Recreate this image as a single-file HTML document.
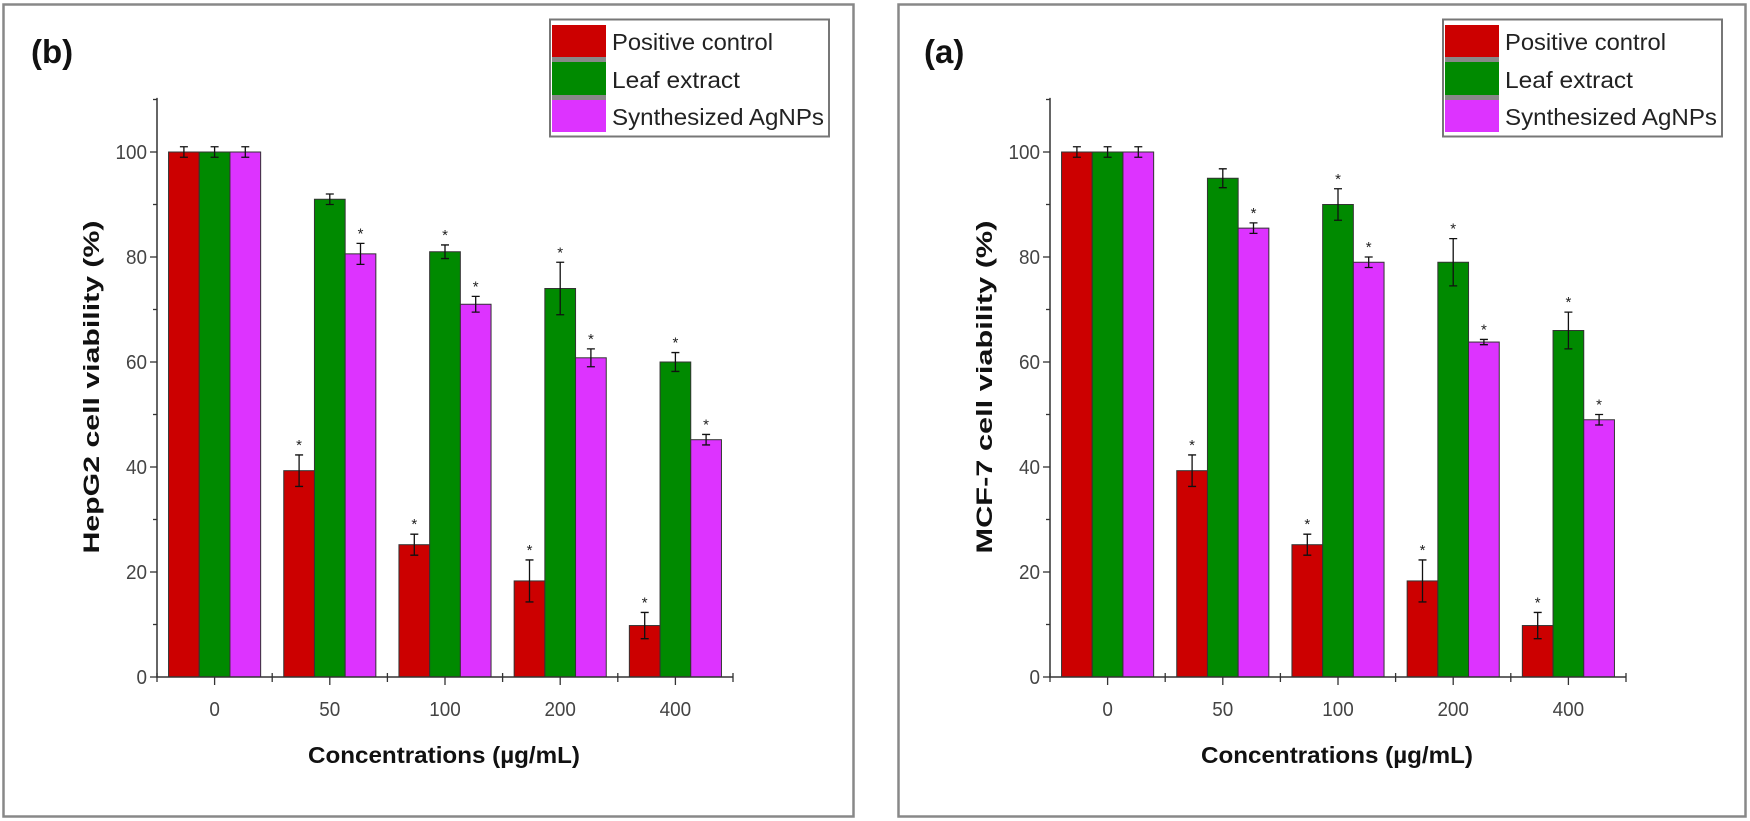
<!DOCTYPE html>
<html><head><meta charset="utf-8"><style>
body{margin:0;background:#fff;}
svg{display:block;font-family:"Liberation Sans",Arial,sans-serif;}
</style></head><body>
<svg id="chart" width="1750" height="821" viewBox="0 0 1750 821">
<rect x="3.5" y="4.5" width="850" height="812" fill="none" stroke="#888" stroke-width="2.5"/>
<rect x="898.5" y="4.5" width="847" height="812" fill="none" stroke="#888" stroke-width="2.5"/>
</svg>
<script>
const categories = ["0","50","100","200","400"];
const seriesNames = ["Positive control","Leaf extract","Synthesized AgNPs"];
const yTicks = [0,20,40,60,80,100];
// Panel (b) HepG2
const hepPositive = [100,39.3,25.2,18.3,9.8];
const hepPositiveErr = [1,3,2,4,2.5];
const hepLeaf = [100,91,81,74,60];
const hepLeafErr = [1,1,1.3,5,1.8];
const hepAgNP = [100,80.6,71,60.8,45.2];
const hepAgNPErr = [1,2,1.5,1.7,1];
// Panel (a) MCF-7
const mcfPositive = [100,39.3,25.2,18.3,9.8];
const mcfPositiveErr = [1,3,2,4,2.5];
const mcfLeaf = [100,95,90,79,66];
const mcfLeafErr = [1,1.8,3,4.5,3.5];
const mcfAgNP = [100,85.5,79,63.8,49];
const mcfAgNPErr = [1,1,1,0.5,1];

const NS = "http://www.w3.org/2000/svg";
const svg = document.getElementById("chart");
const colors = ["#cc0000","#008a00","#dd33ff"];
function mk(tag, attrs, parent){const e=document.createElementNS(NS,tag);for(const k in attrs)e.setAttribute(k,attrs[k]);(parent||svg).appendChild(e);return e;}

function drawPanel(off, label, ytitle, vals, errs, key){
  const g = mk("g",{});
  
  
  const x0 = 157+off, x1 = 733+off, band = (x1-x0)/categories.length;
  const yv = v => 677 - 5.25*v;
  const bw = 30.7;
  const cx = i => x0 + band*(i+0.5);
  for(let s=0;s<3;s++){
    for(let i=0;i<categories.length;i++){
      const v = vals[s][i];
      const bx = cx(i) - 1.5*bw + s*bw;
      const r = mk("rect",{x:bx,y:yv(v),width:bw,height:yv(0)-yv(v),fill:colors[s],stroke:"#333","stroke-width":1},g);
      
      
      const e = errs[s][i], mx = bx + bw/2;
      const eb = mk("path",{d:`M${mx},${yv(v+e)}V${yv(v-e)}M${mx-4},${yv(v+e)}H${mx+4}M${mx-4},${yv(v-e)}H${mx+4}`,stroke:"#111","stroke-width":1.3,fill:"none"},g);
      
      
      if(i>0 && !(s===1 && i===1)){
        const st = mk("text",{x:mx,y:yv(v+e)-5,"text-anchor":"middle","font-size":15,fill:"#222"},g);
        st.textContent="*";
        
        
      }
    }
  }
  const ax = mk("path",{d:`M${x0},${yv(110.3)}V${yv(0)}H${x1}`,stroke:"#333","stroke-width":1.5,fill:"none"},g);
  
  
  for(let v=0; v<=110; v+=10){
    const major = v%20===0;
    mk("line",{x1:x0-(major?7:4),x2:x0,y1:yv(v),y2:yv(v),stroke:"#333","stroke-width":1.3},g);
  }
  yTicks.forEach(v=>{
    const t = mk("text",{x:x0-10,y:yv(v)+7,"text-anchor":"end","font-size":20,fill:"#444",textLength:String(v).length*10.5,lengthAdjust:"spacingAndGlyphs"},g);
    t.textContent=v;
    
    
  });
  for(let i=0;i<=categories.length;i++){
    const bx = x0 + band*i;
    mk("line",{x1:bx,x2:bx,y1:yv(0)-4,y2:yv(0)+5,stroke:"#333","stroke-width":1.3},g);
  }
  categories.forEach((c,i)=>{
    mk("line",{x1:cx(i),x2:cx(i),y1:yv(0),y2:yv(0)+8,stroke:"#333","stroke-width":1.3},g);
    const t = mk("text",{x:cx(i),y:716,"text-anchor":"middle","font-size":20,fill:"#444",textLength:c.length*10.5,lengthAdjust:"spacingAndGlyphs"},g);
    t.textContent=c;
    
    
  });
  const xt = mk("text",{x:444+off,y:763,"text-anchor":"middle","font-size":23,"font-weight":"bold",fill:"#111",textLength:272,lengthAdjust:"spacingAndGlyphs"},g);
  xt.textContent="Concentrations (µg/mL)";
  
  
  const yt = mk("text",{x:0,y:0,"text-anchor":"middle","font-size":22,"font-weight":"bold",fill:"#111",transform:`translate(${99+off},387) rotate(-90)`,textLength:333,lengthAdjust:"spacingAndGlyphs"},g);
  yt.textContent=ytitle;
  
  
  const pl = mk("text",{x:31+off,y:63,"font-size":33,"font-weight":"bold",fill:"#111"},g);
  pl.textContent=label;
  
  
  const lg = mk("g",{},g);
  
  
  mk("rect",{x:550+off,y:19.5,width:279,height:117,fill:"#fff",stroke:"#777","stroke-width":2},lg);
  const rows=[[25,57],[62,95],[100,132]];
  seriesNames.forEach((n,s)=>{
    if(s>0) mk("rect",{x:552+off,y:rows[s-1][1],width:54,height:rows[s][0]-rows[s-1][1],fill:"#888"},lg);
    const sw = mk("rect",{x:552+off,y:rows[s][0],width:54,height:rows[s][1]-rows[s][0],fill:colors[s]},lg);
    
    
    const t = mk("text",{x:612+off,y:rows[s][1]-7,"font-size":23,fill:"#222",textLength:[161,128,212][s],lengthAdjust:"spacingAndGlyphs"},lg);
    t.textContent=n;
    
    
  });
}
drawPanel(0,"(b)","HepG2 cell viability (%)",[hepPositive,hepLeaf,hepAgNP],[hepPositiveErr,hepLeafErr,hepAgNPErr],"hepg2");
drawPanel(893,"(a)","MCF-7  cell viability (%)",[mcfPositive,mcfLeaf,mcfAgNP],[mcfPositiveErr,mcfLeafErr,mcfAgNPErr],"mcf7");
</script>
</body></html>
